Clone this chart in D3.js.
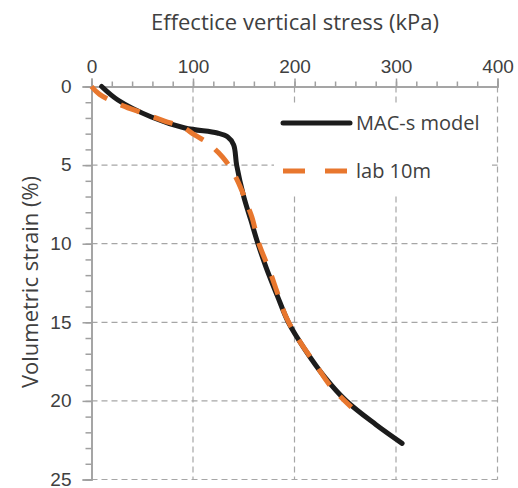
<!DOCTYPE html>
<html lang="en">
<head>
<meta charset="utf-8">
<title>Effective vertical stress vs volumetric strain</title>
<script src="https://d3js.org/d3.v7.min.js"></script>
<style>
  body { margin: 0; background: #fff; }
  svg { font-family: "Open Sans", sans-serif; }
  .tick text { fill: #404040; font-size: 19px; }
  .axis path, .axis line { stroke: #a0a0a0; stroke-width: 1.5; }
</style>
</head>
<body>
<div id="chart"></div>
<script>
// stress (kPa) / volumetric strain (%)
const modelStress = [10, 26, 59, 92, 124, 134, 140, 143, 150, 157, 164, 172, 183, 194, 210, 230, 251, 280, 306];
const modelStrain = [0, 0.86, 1.94, 2.64, 2.96, 3.2, 3.7, 5, 7, 8.5, 10, 11.5, 13.3, 15, 16.7, 18.5, 20, 21.5, 22.7];
const labStress = [0, 8, 30, 51, 72, 89, 102, 115, 125, 133, 140, 148, 152, 158, 165, 176, 183, 192, 205, 221, 236, 256];
const labStrain = [0, 0.5, 1.2, 1.7, 2.2, 2.55, 3.1, 3.6, 4.2, 4.8, 5.5, 6.6, 7.3, 8.3, 10, 11.8, 13.1, 14.7, 16.2, 17.7, 19.1, 20.4];
const xTicks = [0, 100, 200, 300, 400];
const yTicks = [0, 5, 10, 15, 20, 25];
const seriesNames = ["MAC-s model", "lab 10m"];

const width = 518, height = 488;
const margin = {top: 86.5, right: 20.5, bottom: 8.5, left: 91.5};

const x = d3.scaleLinear().domain([0, 400]).range([margin.left, width - margin.right]);
const y = d3.scaleLinear().domain([0, 25]).range([margin.top, height - margin.bottom]);

const svg = d3.select("#chart").append("svg")
    .attr("width", width)
    .attr("height", height);

// gridlines
const grid = svg.append("g")
    .attr("stroke", "#a6a6a6")
    .attr("stroke-width", 1.2)
    .attr("stroke-dasharray", "6,4");
grid.selectAll(".vgrid")
  .data(xTicks.slice(1))
  .join("line")
    .attr("x1", d => x(d)).attr("x2", d => x(d))
    .attr("y1", y(0)).attr("y2", y(25));
grid.selectAll(".hgrid")
  .data(yTicks.slice(1))
  .join("line")
    .attr("x1", x(0)).attr("x2", x(400))
    .attr("y1", d => y(d)).attr("y2", d => y(d));

// axes: minor ticks first, then the major ones with labels
svg.append("g")
    .attr("class", "axis")
    .attr("transform", `translate(0,${margin.top})`)
    .call(d3.axisTop(x).tickValues(d3.range(0, 401, 20)).tickSize(5).tickFormat(""));
svg.append("g")
    .attr("class", "axis")
    .attr("transform", `translate(0,${margin.top})`)
    .call(d3.axisTop(x).tickValues(xTicks).tickSize(8).tickPadding(5.5));

svg.append("g")
    .attr("class", "axis")
    .attr("transform", `translate(${margin.left},0)`)
    .call(d3.axisLeft(y).tickValues(d3.range(0, 26, 1)).tickSize(6).tickFormat(""));
svg.append("g")
    .attr("class", "axis")
    .attr("transform", `translate(${margin.left},0)`)
    .call(d3.axisLeft(y).tickValues(yTicks).tickSize(9).tickPadding(11))
    .call(g => g.selectAll(".tick text").attr("dy", "0.3em"));

// legend background hides the gridlines behind it
svg.append("rect")
    .attr("x", 274).attr("y", 103)
    .attr("width", 218).attr("height", 92)
    .attr("fill", "#fff");

const line = d3.line()
    .x(d => x(d[0]))
    .y(d => y(d[1]))
    .curve(d3.curveCatmullRom.alpha(0.5));

svg.append("path")
    .datum(d3.zip(modelStress, modelStrain))
    .attr("fill", "none")
    .attr("stroke", "#1c1c1c")
    .attr("stroke-width", 5)
    .attr("stroke-linecap", "round")
    .attr("d", line);

svg.append("path")
    .datum(d3.zip(labStress, labStrain))
    .attr("fill", "none")
    .attr("stroke", "#e8772e")
    .attr("stroke-width", 5)
    .attr("stroke-dasharray", "20,15")
    .attr("d", line);

// legend
const legend = svg.append("g").attr("transform", "translate(283,0)");
legend.append("line")
    .attr("x1", 0).attr("x2", 67).attr("y1", 123).attr("y2", 123)
    .attr("stroke", "#1c1c1c").attr("stroke-width", 5).attr("stroke-linecap", "round");
legend.append("line")
    .attr("x1", 0).attr("x2", 67).attr("y1", 171).attr("y2", 171)
    .attr("stroke", "#e8772e").attr("stroke-width", 5).attr("stroke-dasharray", "22,20");
legend.selectAll(".legend-text")
  .data(seriesNames)
  .join("text")
    .attr("x", 73)
    .attr("y", (d, i) => 123 + i * 48)
    .attr("dy", "0.35em")
    .attr("fill", "#404040")
    .attr("font-size", 20)
    .text(d => d);

// axis titles
svg.append("text")
    .attr("x", 295).attr("y", 30)
    .attr("text-anchor", "middle")
    .attr("fill", "#404040")
    .attr("font-size", 22)
    .text("Effectice vertical stress (kPa)");

svg.append("text")
    .attr("transform", "translate(38,282) rotate(-90)")
    .attr("text-anchor", "middle")
    .attr("fill", "#404040")
    .attr("font-size", 22)
    .text("Volumetric strain (%)");
</script>
</body>
</html>
